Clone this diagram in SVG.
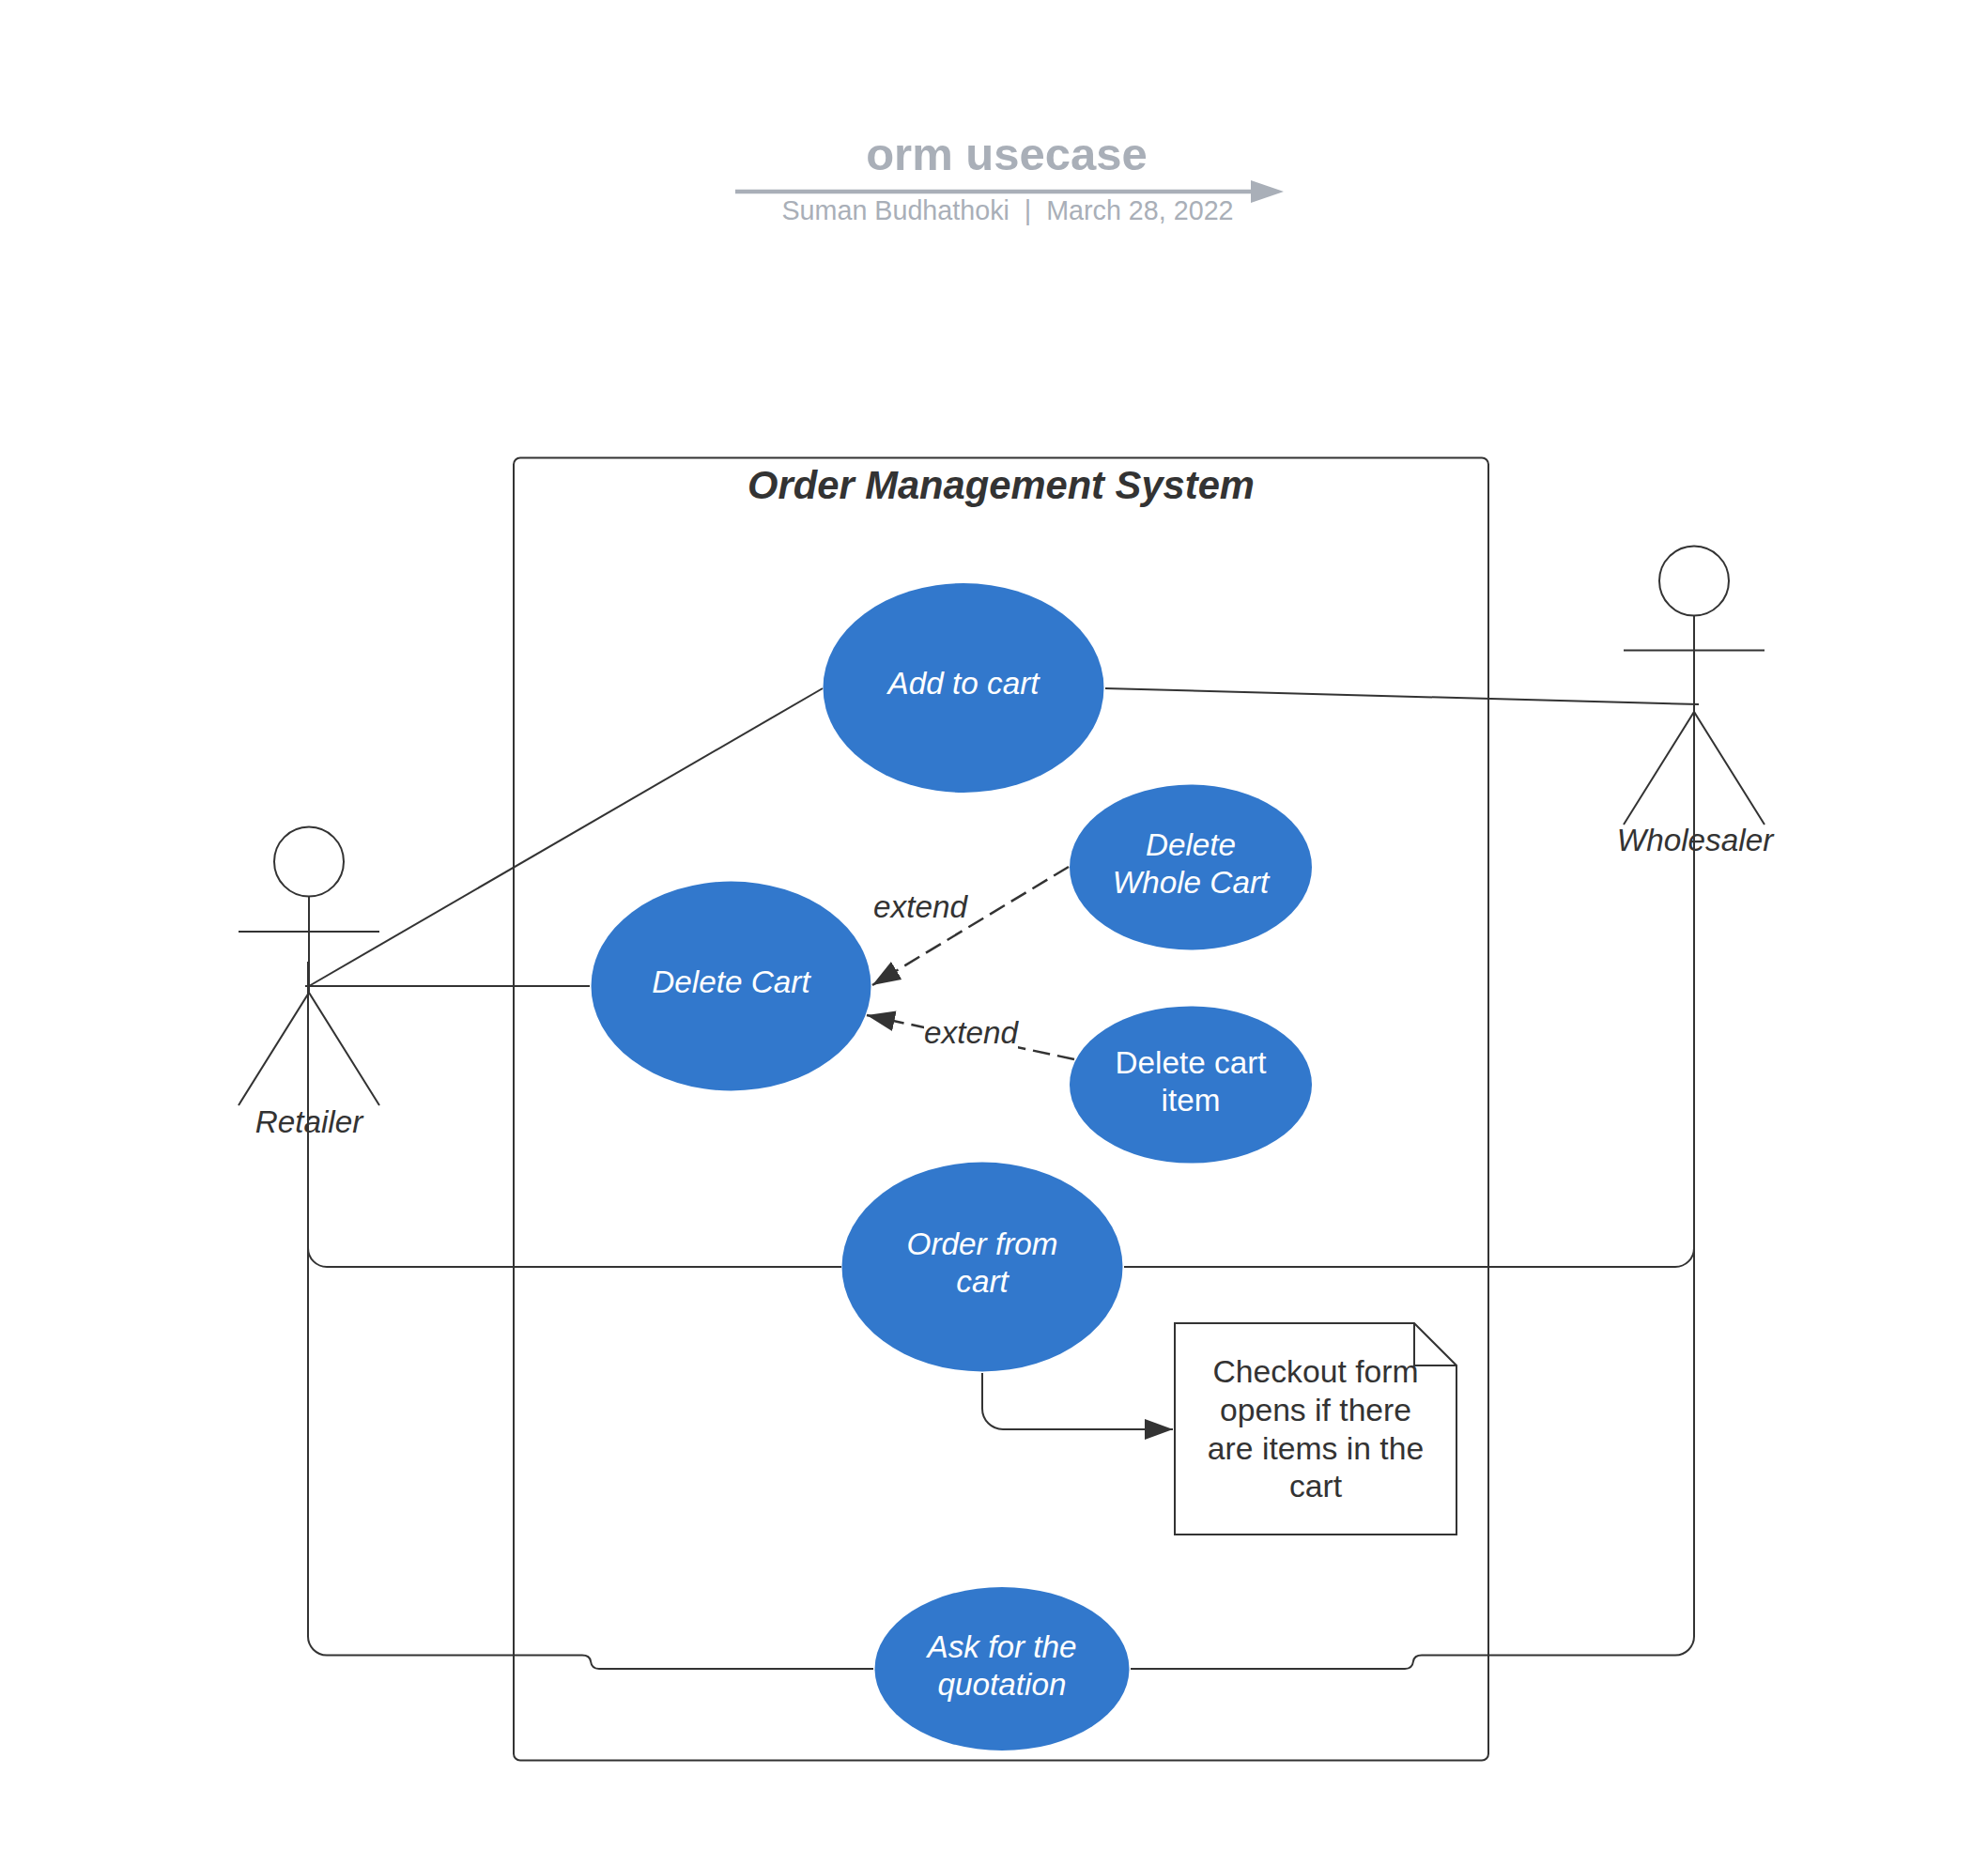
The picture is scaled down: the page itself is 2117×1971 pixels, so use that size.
<svg xmlns="http://www.w3.org/2000/svg" width="2117" height="1971" viewBox="0 0 2117 1971">
<style>
text{font-family:"Liberation Sans",Arial,sans-serif;text-anchor:middle}
.ln{fill:none;stroke:#333;stroke-width:2}
.da{stroke-width:2.500;stroke-dasharray:18.500 8}
.el{fill:#3278cc}
.w{fill:#fff;font-size:33.3px}
.d{fill:#333;font-size:33.3px}
.n{fill:#333;font-size:33.7px}
.i{font-style:italic}
</style>
<defs>
<marker id="a" markerUnits="userSpaceOnUse" markerWidth="32" markerHeight="24" refX="30" refY="11" orient="auto"><path d="M0 0L30 11L0 22Z" fill="#333"/></marker>
</defs>
<rect width="2117" height="1971" fill="#fff"/>
<g id="title">
<text x="1072" y="181" font-size="49" font-weight="bold" fill="#a9afb8">orm usecase</text>
<path d="M783 204H1334" stroke="#a9afb8" stroke-width="4.5" fill="none"/>
<path d="M1332 192L1367 204L1332 216Z" fill="#a9afb8"/>
<text x="1073" y="234" font-size="28.7" fill="#a9afb8" xml:space="preserve">Suman Budhathoki  |  March 28, 2022</text>
</g>
<g id="system">
<rect class="ln" x="547" y="487.500" width="1038" height="1387" rx="7"/>
<text class="i" x="1066" y="531" font-size="41.700" font-weight="bold" fill="#333">Order Management System</text>
</g>
<g id="connectors">
<path class="ln" d="M876 733L329 1050"/>
<path class="ln" d="M325 1050H628"/>
<path class="ln" d="M1177 733L1809 750"/>
<path class="ln" d="M328 1024V1329A20 20 0 0 0 348 1349H896"/>
<path class="ln" d="M1197 1349H1784A20 20 0 0 0 1804 1329V750"/>
<path class="ln" d="M328 1329V1742A20 20 0 0 0 348 1762.500H620Q628 1762.500 629 1769Q630 1777 638 1777H930"/>
<path class="ln" d="M1204 1777H1496Q1504 1777 1505 1769Q1506 1762.500 1514 1762.500H1784A20 20 0 0 0 1804 1742V1329"/>
<path class="ln da" d="M1138 923L929 1049" marker-end="url(#a)"/>
<path class="ln da" d="M1144 1128L923 1081" marker-end="url(#a)"/>
<path class="ln" d="M1046 1462V1500A22 22 0 0 0 1068 1522H1249" marker-end="url(#a)"/>
</g>
<g id="retailer">
<circle class="ln" cx="329" cy="917.500" r="37"/>
<path class="ln" d="M329 955V1057M254 992H404M254 1177L329 1057L404 1177"/>
<text class="d i" x="329" y="1206">Retailer</text>
</g>
<g id="wholesaler">
<circle class="ln" cx="1804" cy="618.500" r="37"/>
<path class="ln" d="M1804 656V758M1729 692.500H1879M1729 878L1804 758L1879 878"/>
<text class="d i" x="1805" y="906">Wholesaler</text>
</g>
<g id="add-to-cart"><ellipse class="el" cx="1026" cy="732.500" rx="149.500" ry="111.500"/><text class="w i" x="1026" y="739">Add to cart</text></g>
<g id="delete-cart"><ellipse class="el" cx="778.500" cy="1050" rx="149" ry="111.500"/><text class="w i" x="778.500" y="1057">Delete Cart</text></g>
<g id="delete-whole-cart"><ellipse class="el" cx="1268" cy="923.500" rx="129" ry="88"/><text class="w i" x="1268" y="911">Delete</text><text class="w i" x="1268" y="951">Whole Cart</text></g>
<g id="delete-cart-item"><ellipse class="el" cx="1268" cy="1155" rx="129" ry="83.500"/><text class="w" x="1268" y="1143">Delete cart</text><text class="w" x="1268" y="1183">item</text></g>
<g id="order-from-cart"><ellipse class="el" cx="1046" cy="1349" rx="149.500" ry="111.500"/><text class="w i" x="1046" y="1336">Order from</text><text class="w i" x="1046" y="1376">cart</text></g>
<g id="ask-quotation"><ellipse class="el" cx="1067" cy="1777" rx="135.500" ry="87"/><text class="w i" x="1067" y="1765">Ask for the</text><text class="w i" x="1067" y="1805">quotation</text></g>
<g id="note">
<path class="ln" d="M1251 1409H1506L1551 1454V1634H1251ZM1506 1409V1454H1551"/>
<text class="n" x="1401" y="1472">Checkout form</text>
<text class="n" x="1401" y="1513">opens if there</text>
<text class="n" x="1401" y="1553.500">are items in the</text>
<text class="n" x="1401" y="1594">cart</text>
</g>
<g id="labels">
<text class="d i" x="980" y="977">extend</text>
<rect x="984" y="1082" width="100" height="36" fill="#fff"/>
<text class="d i" x="1034" y="1111">extend</text>
</g>
</svg>
